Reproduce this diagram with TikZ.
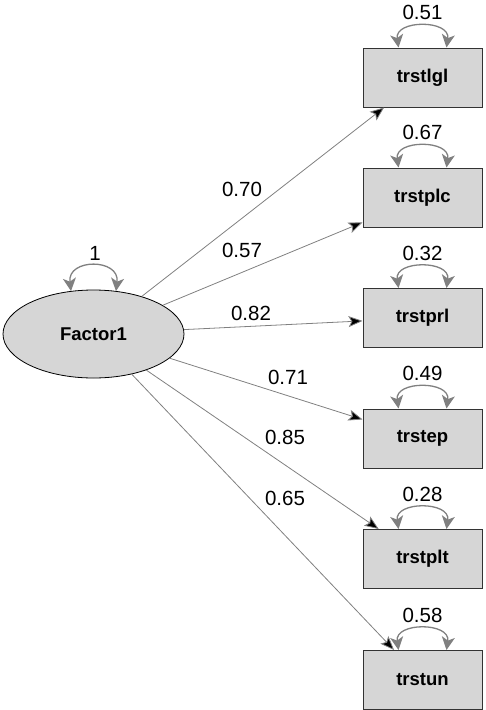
\documentclass[tikz,border=0pt]{standalone}
\usepackage{fontspec}
\setmainfont{Liberation Sans}
\usepackage{tikz}
\usetikzlibrary{arrows.meta, shapes.geometric}
\definecolor{boxgray}{RGB}{214,214,214}
\definecolor{linegray}{RGB}{128,128,128}
\tikzstyle{latent}=[ellipse, draw=black, fill=boxgray, line width=0.8pt, minimum width=181pt, minimum height=88pt, inner sep=0pt, font=\fontsize{18.5}{22}\selectfont\bfseries]
\tikzstyle{observed}=[rectangle, draw=black!80, fill=boxgray, line width=1pt, minimum width=119pt, minimum height=59pt, inner sep=0pt, font=\fontsize{18.5}{22}\selectfont\bfseries]
\tikzstyle{coef}=[inner sep=0pt, font=\fontsize{20.5}{24}\selectfont]
\tikzstyle{loading}=[draw=linegray, line width=0.8pt, -{Stealth[length=14pt,width=11pt,inset=3pt]}]
\tikzstyle{variance}=[draw=linegray, line width=1.3pt, {Stealth[length=13pt,width=13pt,inset=3.5pt]}-{Stealth[length=13pt,width=13pt,inset=3.5pt]}]

\begin{document}
\begin{tikzpicture}[x=1pt, y=-1pt]
	\useasboundingbox (0,0) rectangle (485,710);
	\begin{scope}
		\node (f) at (93.5, 334)[latent] {Factor1};
		\node (lgl) at (422.5, 77.5)[observed] {trstlgl};
		\node (plc) at (422.5, 197.5)[observed] {trstplc};
		\node (prl) at (422.5, 318)[observed] {trstprl};
		\node (ep) at (422.5, 438.5)[observed] {trstep};
		\node (plt) at (422.5, 559)[observed] {trstplt};
		\node (un) at (422.5, 680)[observed] {trstun};
	\end{scope}
	\begin{scope}
		% factor loadings
		\path [loading] (f) edge (lgl);
		\path [loading] (f) edge (plc);
		\path [loading] (f) edge (prl);
		\path [loading] (f) edge (ep);
		\path [loading] (f) edge (plt);
		\path [loading] (f) edge (un);
		\node (clgl) at (242, 189)[coef] {0.70};
		\node (cplc) at (242, 250)[coef] {0.57};
		\node (cprl) at (251, 313)[coef] {0.82};
		\node (cep) at (288, 377)[coef] {0.71};
		\node (cplt) at (285, 437)[coef] {0.85};
		\node (cun) at (285, 498)[coef] {0.65};
	\end{scope}
	\begin{scope}
		% variances
		\path [variance] ([xshift=-22.5pt, yshift=-1.5pt]f.north) .. controls +(-4,-33) and +(4,-33) .. ([xshift=22.5pt, yshift=-1.5pt]f.north);
		\node (vf) at (95, 253)[coef] {1};
		\foreach \b/\v in {lgl/0.51, plc/0.67, prl/0.32, ep/0.49, plt/0.28, un/0.58} {
			\path [variance] ([xshift=-24pt]\b.north) .. controls +(-4,-28) and +(4,-28) .. ([xshift=24pt]\b.north);
			\node (v\b) at ([yshift=35pt]\b.north)[coef] {\v};
		}
	\end{scope}
\end{tikzpicture}
\end{document}
